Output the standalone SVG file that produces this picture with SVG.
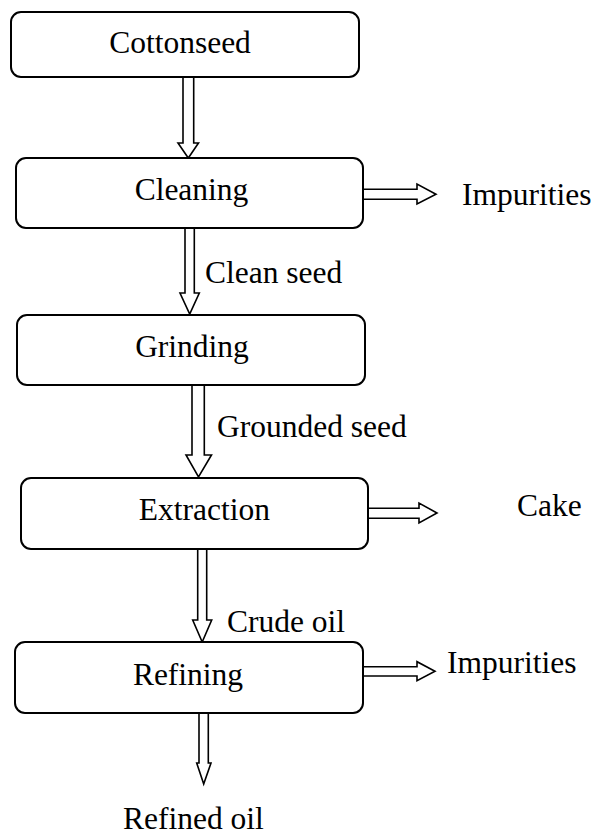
<svg xmlns="http://www.w3.org/2000/svg" width="594" height="836" viewBox="0 0 594 836">
<style>
.box{fill:#fff;stroke:#000;stroke-width:2}
.arr{fill:#fff;stroke:#000;stroke-width:1.6;stroke-linejoin:miter}
.t{font-family:'Liberation Serif','Times New Roman','DejaVu Serif',serif;font-size:31.5px;fill:#000}
.c{text-anchor:middle}
</style>
<rect width="594" height="836" fill="#fff"/>
<g id="connectors">
<path class="arr" d="M183,77 L183,143 L178,143 L188.3,158 L198.5,143 L193.7,143 L193.7,77"/>
<path class="arr" d="M185,228 L185,293 L180,293 L189.7,314 L199.3,293 L194.3,293 L194.3,228"/>
<path class="arr" d="M192,385 L192,455 L186,455 L198.5,477 L211.5,455 L204.3,455 L204.3,385"/>
<path class="arr" d="M197.7,549 L197.7,620 L192.7,620 L202.2,642 L211.7,620 L206.7,620 L206.7,549"/>
<path class="arr" d="M199,713 L199,763 L196.7,763 L203.7,784 L211,763 L208.3,763 L208.3,713"/>
<path class="arr" d="M363,189.3 L417,189.3 L417,184 L436,194.3 L417,204 L417,199.3 L363,199.3"/>
<path class="arr" d="M368,508.3 L419,508.3 L419,503 L437,513 L419,523 L419,518.3 L368,518.3"/>
<path class="arr" d="M363,666.7 L417,666.7 L417,661.7 L435,671.3 L417,680.7 L417,676 L363,676"/>
</g>
<g id="cottonseed"><rect class="box" x="11" y="12" width="348" height="65" rx="10"/><text class="t c" font-family="Liberation Serif, serif" x="180" y="53">Cottonseed</text></g>
<g id="cleaning"><rect class="box" x="16" y="158" width="347" height="70" rx="10"/><text class="t c" font-family="Liberation Serif, serif" x="191.5" y="200">Cleaning</text></g>
<g id="grinding"><rect class="box" x="17" y="315" width="348" height="70" rx="10"/><text class="t c" font-family="Liberation Serif, serif" x="192" y="357">Grinding</text></g>
<g id="extraction"><rect class="box" x="21" y="478" width="347" height="71" rx="10"/><text class="t c" font-family="Liberation Serif, serif" x="204.3" y="520">Extraction</text></g>
<g id="refining"><rect class="box" x="15" y="642" width="348" height="71" rx="10"/><text class="t c" font-family="Liberation Serif, serif" x="188" y="685">Refining</text></g>
<g id="labels" font-family="Liberation Serif, serif">
<text class="t" x="462" y="205">Impurities</text>
<text class="t" x="205" y="283">Clean seed</text>
<text class="t" x="217" y="437">Grounded seed</text>
<text class="t" x="517" y="516">Cake</text>
<text class="t" x="227" y="632">Crude oil</text>
<text class="t" x="447" y="673">Impurities</text>
<text class="t" x="123" y="829">Refined oil</text>
</g>
</svg>
